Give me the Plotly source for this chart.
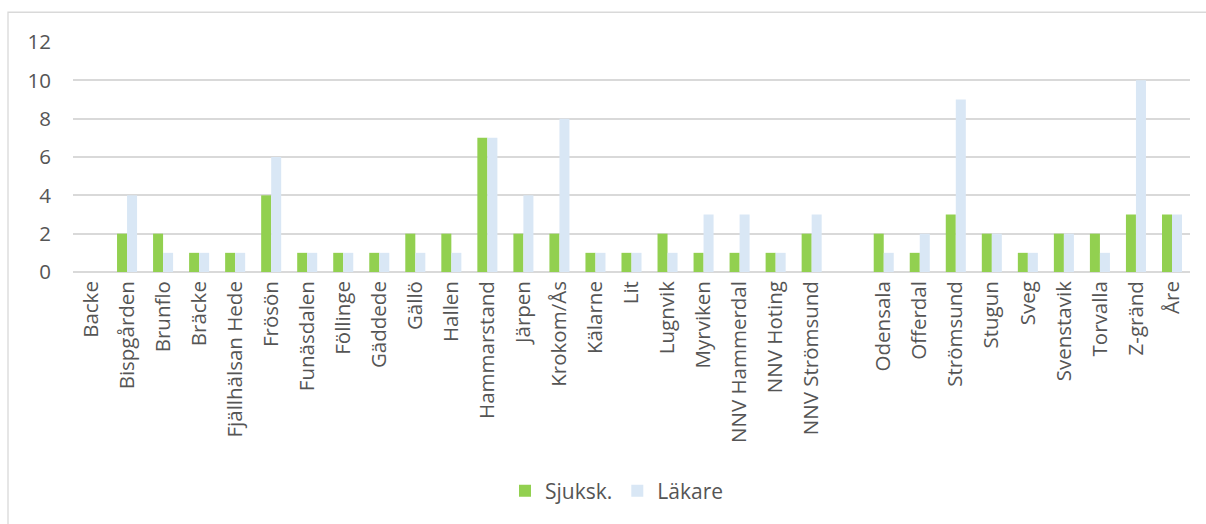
import plotly.graph_objects as go

# Health centres (one empty slot separates the two groups)
enheter = [
    "Backe", "Bispgården", "Brunflo", "Bräcke", "Fjällhälsan Hede", "Frösön",
    "Funäsdalen", "Föllinge", "Gäddede", "Gällö", "Hallen", "Hammarstand",
    "Järpen", "Krokom/Ås", "Kälarne", "Lit", "Lugnvik", "Myrviken",
    "NNV Hammerdal", "NNV Hoting", "NNV Strömsund", " ", "Odensala",
    "Offerdal", "Strömsund", "Stugun", "Sveg", "Svenstavik", "Torvalla",
    "Z-gränd", "Åre",
]
sjuksk = [0, 2, 2, 1, 1, 4, 1, 1, 1, 2, 2, 7, 2, 2, 1, 1, 2, 1, 1, 1, 2,
          None, 2, 1, 3, 2, 1, 2, 2, 3, 3]
lakare = [0, 4, 1, 1, 1, 6, 1, 1, 1, 1, 1, 7, 4, 8, 1, 1, 1, 3, 3, 1, 3,
          None, 1, 2, 9, 2, 1, 2, 1, 10, 3]
y_ticks = [0, 2, 4, 6, 8, 10, 12]

FONT = "Open Sans"
TEXT = "#555555"
GRID = "#D9D9D9"

fig = go.Figure()
fig.add_trace(go.Bar(x=enheter, y=sjuksk, name="Sjuksk.",
                     marker=dict(color="#92D050", line=dict(width=0))))
fig.add_trace(go.Bar(x=enheter, y=lakare, name="Läkare",
                     marker=dict(color="#D9E7F5", line=dict(width=0))))

W, H = 1206, 524
L, R, T, B = 73, 16, 42, 250
pw, ph = W - L - R, H - T - B

def px_x(v):
    return (v - L) / pw

def px_y(v):
    return (H - B - v) / ph

fig.update_layout(
    width=W, height=H,
    margin=dict(l=L, r=R, t=T, b=B),
    paper_bgcolor="white", plot_bgcolor="white",
    barmode="group", bargap=0.444, bargroupgap=0,
    font=dict(family=FONT, color=TEXT, size=20),
    showlegend=True,
    legend=dict(orientation="h", x=px_x(617), xanchor="center",
                y=px_y(495), yanchor="middle",
                font=dict(family=FONT, size=21, color=TEXT),
                itemwidth=30, traceorder="normal"),
    xaxis=dict(type="category", categoryorder="array", categoryarray=enheter,
               tickangle=-90, showgrid=False, zeroline=False, showline=False,
               ticks="", tickfont=dict(family=FONT, size=20.5, color=TEXT),
               ticklabelstandoff=4),
    yaxis=dict(range=[0, 12], tickvals=y_ticks, showgrid=True,
               gridcolor=GRID, gridwidth=1.5, zeroline=True,
               zerolinecolor=GRID, zerolinewidth=1.5, showline=False,
               ticks="", tickfont=dict(family=FONT, size=20.5, color=TEXT),
               ticklabelstandoff=21),
    shapes=[dict(type="rect", xref="paper", yref="paper",
                 x0=px_x(8), x1=px_x(1212), y0=px_y(530), y1=px_y(12),
                 line=dict(color=GRID, width=1.3), fillcolor="rgba(0,0,0,0)",
                 layer="below")],
)

fig.write_html("out.html")
